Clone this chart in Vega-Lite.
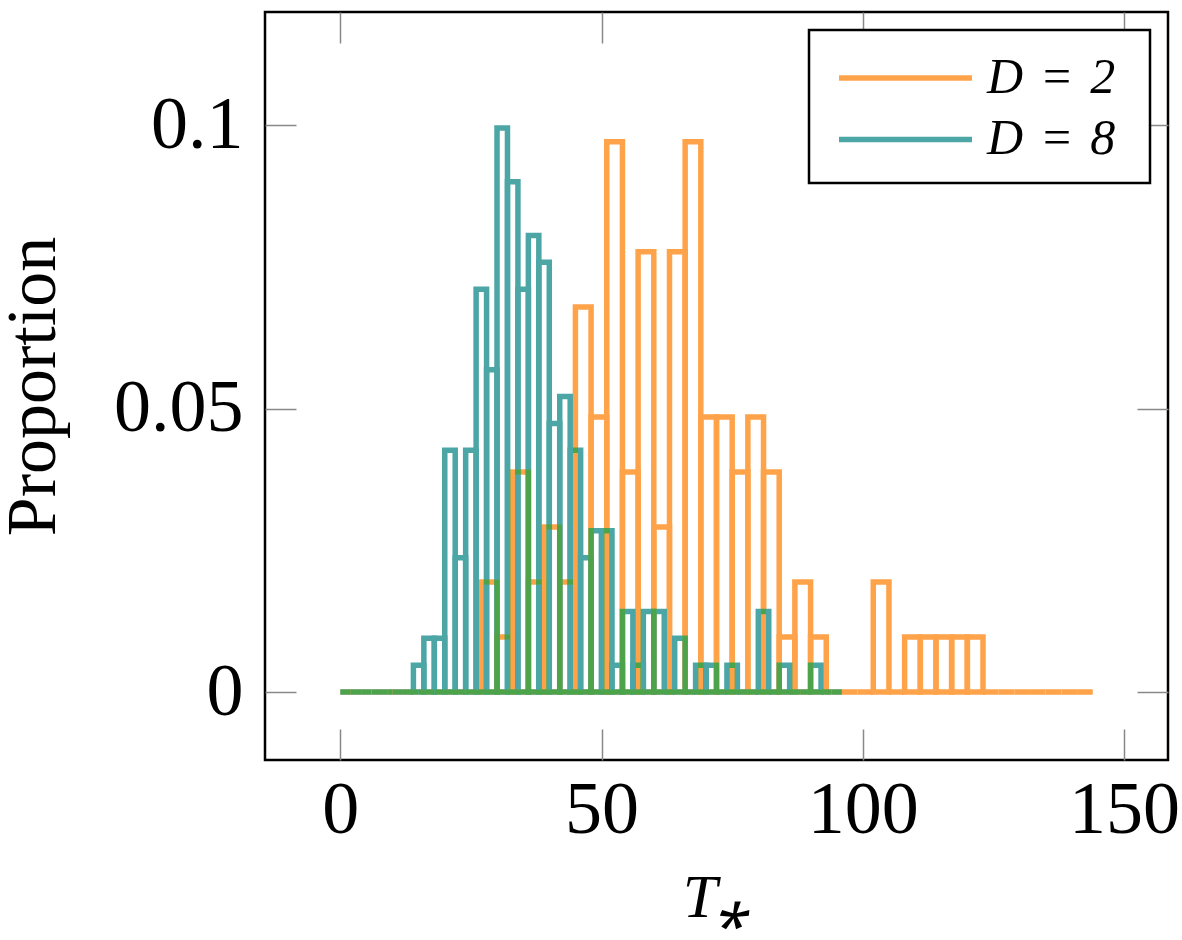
{
  "$schema": "https://vega.github.io/schema/vega-lite/v6.json",
  "width": 903,
  "height": 748,
  "autosize": {"type": "none"},
  "padding": {"left": 265, "top": 12, "right": 14, "bottom": 180},
  "background": "white",
  "config": {
    "font": "Liberation Serif",
    "view": {"stroke": "black", "strokeWidth": 2.5},
    "legend": {"strokeWidth": 2.5}
  },
  "data": {
    "values": [
      {"D": 2, "x0": 0, "x1": 3, "p": 0},
      {"D": 2, "x0": 3, "x1": 6, "p": 0},
      {"D": 2, "x0": 6, "x1": 9, "p": 0},
      {"D": 2, "x0": 9, "x1": 12, "p": 0},
      {"D": 2, "x0": 12, "x1": 15, "p": 0},
      {"D": 2, "x0": 15, "x1": 18, "p": 0},
      {"D": 2, "x0": 18, "x1": 21, "p": 0},
      {"D": 2, "x0": 21, "x1": 24, "p": 0},
      {"D": 2, "x0": 24, "x1": 27, "p": 0},
      {"D": 2, "x0": 27, "x1": 30, "p": 0.01942},
      {"D": 2, "x0": 30, "x1": 33, "p": 0.00971},
      {"D": 2, "x0": 33, "x1": 36, "p": 0.03883},
      {"D": 2, "x0": 36, "x1": 39, "p": 0.01942},
      {"D": 2, "x0": 39, "x1": 42, "p": 0.02913},
      {"D": 2, "x0": 42, "x1": 45, "p": 0.01942},
      {"D": 2, "x0": 45, "x1": 48, "p": 0.06796},
      {"D": 2, "x0": 48, "x1": 51, "p": 0.04854},
      {"D": 2, "x0": 51, "x1": 54, "p": 0.09709},
      {"D": 2, "x0": 54, "x1": 57, "p": 0.03883},
      {"D": 2, "x0": 57, "x1": 60, "p": 0.07767},
      {"D": 2, "x0": 60, "x1": 63, "p": 0.02913},
      {"D": 2, "x0": 63, "x1": 66, "p": 0.07767},
      {"D": 2, "x0": 66, "x1": 69, "p": 0.09709},
      {"D": 2, "x0": 69, "x1": 72, "p": 0.04854},
      {"D": 2, "x0": 72, "x1": 75, "p": 0.04854},
      {"D": 2, "x0": 75, "x1": 78, "p": 0.03883},
      {"D": 2, "x0": 78, "x1": 81, "p": 0.04854},
      {"D": 2, "x0": 81, "x1": 84, "p": 0.03883},
      {"D": 2, "x0": 84, "x1": 87, "p": 0.00971},
      {"D": 2, "x0": 87, "x1": 90, "p": 0.01942},
      {"D": 2, "x0": 90, "x1": 93, "p": 0.00971},
      {"D": 2, "x0": 93, "x1": 96, "p": 0},
      {"D": 2, "x0": 96, "x1": 99, "p": 0},
      {"D": 2, "x0": 99, "x1": 102, "p": 0},
      {"D": 2, "x0": 102, "x1": 105, "p": 0.01942},
      {"D": 2, "x0": 105, "x1": 108, "p": 0},
      {"D": 2, "x0": 108, "x1": 111, "p": 0.00971},
      {"D": 2, "x0": 111, "x1": 114, "p": 0.00971},
      {"D": 2, "x0": 114, "x1": 117, "p": 0.00971},
      {"D": 2, "x0": 117, "x1": 120, "p": 0.00971},
      {"D": 2, "x0": 120, "x1": 123, "p": 0.00971},
      {"D": 2, "x0": 123, "x1": 126, "p": 0},
      {"D": 2, "x0": 126, "x1": 129, "p": 0},
      {"D": 2, "x0": 129, "x1": 132, "p": 0},
      {"D": 2, "x0": 132, "x1": 135, "p": 0},
      {"D": 2, "x0": 135, "x1": 138, "p": 0},
      {"D": 2, "x0": 138, "x1": 141, "p": 0},
      {"D": 2, "x0": 141, "x1": 144, "p": 0},
      {"D": 8, "x0": 0, "x1": 2, "p": 0},
      {"D": 8, "x0": 2, "x1": 4, "p": 0},
      {"D": 8, "x0": 4, "x1": 6, "p": 0},
      {"D": 8, "x0": 6, "x1": 8, "p": 0},
      {"D": 8, "x0": 8, "x1": 10, "p": 0},
      {"D": 8, "x0": 10, "x1": 12, "p": 0},
      {"D": 8, "x0": 12, "x1": 14, "p": 0},
      {"D": 8, "x0": 14, "x1": 16, "p": 0.00474},
      {"D": 8, "x0": 16, "x1": 18, "p": 0.00948},
      {"D": 8, "x0": 18, "x1": 20, "p": 0.00948},
      {"D": 8, "x0": 20, "x1": 22, "p": 0.04265},
      {"D": 8, "x0": 22, "x1": 24, "p": 0.0237},
      {"D": 8, "x0": 24, "x1": 26, "p": 0.04265},
      {"D": 8, "x0": 26, "x1": 28, "p": 0.07109},
      {"D": 8, "x0": 28, "x1": 30, "p": 0.05687},
      {"D": 8, "x0": 30, "x1": 32, "p": 0.09953},
      {"D": 8, "x0": 32, "x1": 34, "p": 0.09005},
      {"D": 8, "x0": 34, "x1": 36, "p": 0.07109},
      {"D": 8, "x0": 36, "x1": 38, "p": 0.08057},
      {"D": 8, "x0": 38, "x1": 40, "p": 0.07583},
      {"D": 8, "x0": 40, "x1": 42, "p": 0.04739},
      {"D": 8, "x0": 42, "x1": 44, "p": 0.05213},
      {"D": 8, "x0": 44, "x1": 46, "p": 0.04265},
      {"D": 8, "x0": 46, "x1": 48, "p": 0.0237},
      {"D": 8, "x0": 48, "x1": 50, "p": 0.02844},
      {"D": 8, "x0": 50, "x1": 52, "p": 0.02844},
      {"D": 8, "x0": 52, "x1": 54, "p": 0.00474},
      {"D": 8, "x0": 54, "x1": 56, "p": 0.01422},
      {"D": 8, "x0": 56, "x1": 58, "p": 0.00474},
      {"D": 8, "x0": 58, "x1": 60, "p": 0.01422},
      {"D": 8, "x0": 60, "x1": 62, "p": 0.01422},
      {"D": 8, "x0": 62, "x1": 64, "p": 0},
      {"D": 8, "x0": 64, "x1": 66, "p": 0.00948},
      {"D": 8, "x0": 66, "x1": 68, "p": 0},
      {"D": 8, "x0": 68, "x1": 70, "p": 0.00474},
      {"D": 8, "x0": 70, "x1": 72, "p": 0.00474},
      {"D": 8, "x0": 72, "x1": 74, "p": 0},
      {"D": 8, "x0": 74, "x1": 76, "p": 0.00474},
      {"D": 8, "x0": 76, "x1": 78, "p": 0},
      {"D": 8, "x0": 78, "x1": 80, "p": 0},
      {"D": 8, "x0": 80, "x1": 82, "p": 0.01422},
      {"D": 8, "x0": 82, "x1": 84, "p": 0},
      {"D": 8, "x0": 84, "x1": 86, "p": 0.00474},
      {"D": 8, "x0": 86, "x1": 88, "p": 0},
      {"D": 8, "x0": 88, "x1": 90, "p": 0},
      {"D": 8, "x0": 90, "x1": 92, "p": 0.00474},
      {"D": 8, "x0": 92, "x1": 94, "p": 0},
      {"D": 8, "x0": 94, "x1": 96, "p": 0}
    ]
  },
  "layer": [
    {
      "transform": [{"filter": "datum.D == 2"}],
      "mark": {"type": "rect", "filled": false, "strokeWidth": 5.5},
      "encoding": {
        "x": {
          "field": "x0",
          "type": "quantitative",
          "scale": {"domain": [-14.4, 158.4], "nice": false, "zero": false},
          "axis": {
            "orient": "bottom",
            "values": [0, 50, 100, 150],
            "domain": false,
            "grid": false,
            "tickSize": -31,
            "tickColor": "#888888",
            "tickWidth": 1.5,
            "labelFontSize": 74,
            "labelColor": "black",
            "labelPadding": 45,
            "title": "T⁎",
            "titleFontSize": 62,
            "titleFontStyle": "italic",
            "titleFontWeight": "normal",
            "titleColor": "black",
            "titlePadding": 20
          }
        },
        "x2": {"field": "x1"},
        "y": {
          "field": "p",
          "type": "quantitative",
          "scale": {"domain": [-0.012, 0.12], "nice": false, "zero": false},
          "axis": {
            "orient": "left",
            "values": [0, 0.05, 0.1],
            "format": "~g",
            "domain": false,
            "grid": false,
            "tickSize": -31,
            "tickColor": "#888888",
            "tickWidth": 1.5,
            "labelFontSize": 74,
            "labelColor": "black",
            "labelPadding": 53,
            "title": "Proportion",
            "titleFontSize": 70,
            "titleFontWeight": "normal",
            "titleColor": "black",
            "titlePadding": 44
          }
        },
        "y2": {"datum": 0},
        "color": {
          "field": "D",
          "type": "nominal",
          "scale": {"domain": [2, 8], "range": ["#ffa34a", "#4ca6a6"]},
          "legend": {
            "orient": "top-right",
            "offset": 18,
            "title": null,
            "strokeColor": "black",
            "fillColor": "white",
            "padding": 18,
            "symbolType": "M-2.44,0H2.44",
            "symbolSize": 2970,
            "symbolStrokeWidth": 5.5,
            "symbolOffset": 48.5,
            "labelFontSize": 50,
            "labelFontStyle": "italic",
            "labelColor": "black",
            "labelOffset": 51.5,
            "rowPadding": 6.4,
            "labelExpr": "'D\u2004=\u2004' + datum.label + '\u2004\u200b'"
          }
        }
      }
    },
    {
      "transform": [{"filter": "datum.D == 8"}],
      "mark": {"type": "rect", "filled": false, "strokeWidth": 5.5, "blend": "darken"},
      "encoding": {
        "x": {
          "field": "x0",
          "type": "quantitative",
          "axis": {
            "orient": "top",
            "values": [0, 50, 100, 150],
            "domain": false,
            "grid": false,
            "labels": false,
            "tickSize": -31,
            "tickColor": "#888888",
            "tickWidth": 1.5,
            "title": null
          }
        },
        "x2": {"field": "x1"},
        "y": {
          "field": "p",
          "type": "quantitative",
          "axis": {
            "orient": "right",
            "values": [0, 0.05, 0.1],
            "domain": false,
            "grid": false,
            "labels": false,
            "tickSize": -31,
            "tickColor": "#888888",
            "tickWidth": 1.5,
            "title": null
          }
        },
        "y2": {"datum": 0},
        "color": {"field": "D", "type": "nominal"}
      }
    }
  ],
  "resolve": {"axis": {"x": "independent", "y": "independent"}}
}
